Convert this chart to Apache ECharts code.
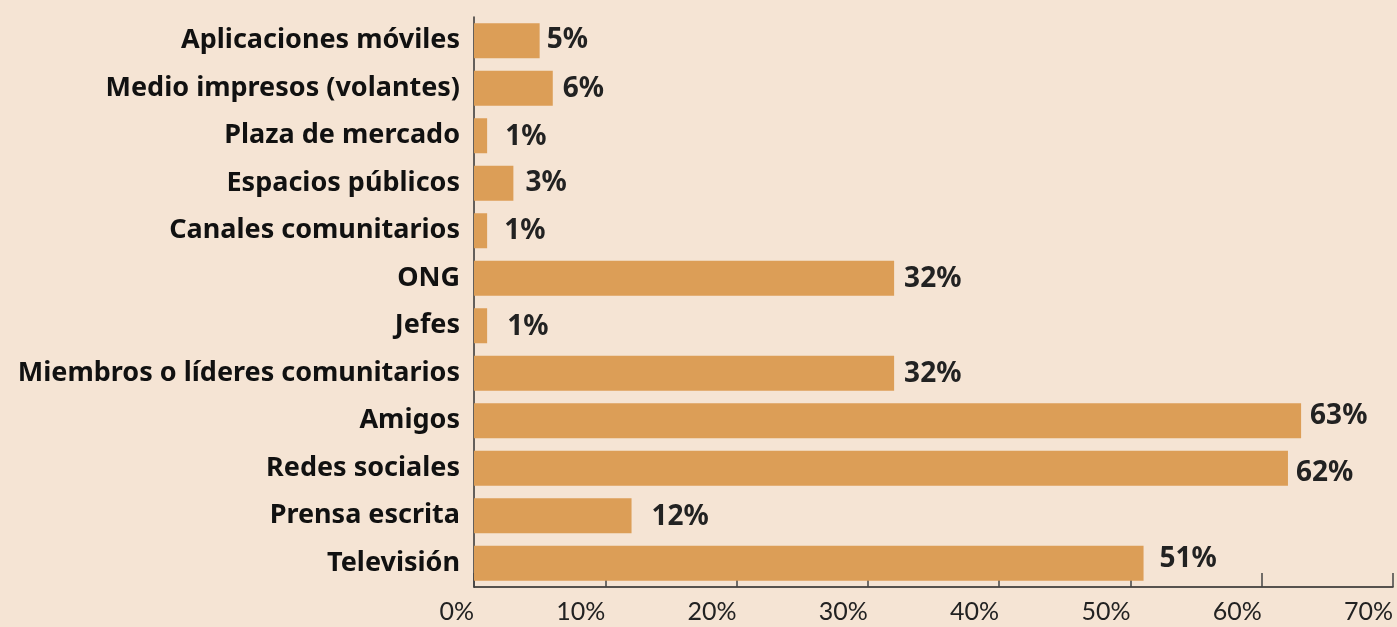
<!DOCTYPE html>
<html>
<head>
<meta charset="utf-8">
<script src="https://cdn.jsdelivr.net/npm/echarts@6/dist/echarts.min.js"></script>
<style>
  html, body { margin: 0; padding: 0; background: #F5E4D4; }
  #chart { width: 1397px; height: 627px; }
</style>
</head>
<body>
<div id="chart"></div>
<script>
const categories = [
  'Aplicaciones móviles',
  'Medio impresos (volantes)',
  'Plaza de mercado',
  'Espacios públicos',
  'Canales comunitarios',
  'ONG',
  'Jefes',
  'Miembros o líderes comunitarios',
  'Amigos',
  'Redes sociales',
  'Prensa escrita',
  'Televisión'
]
const shares = [5, 6, 1, 3, 1, 32, 1, 32, 63, 62, 12, 51]
const xTicks = [0, 10, 20, 30, 40, 50, 60, 70]

// label gap after each bar and vertical nudge, as in the source graphic
const labelGap = [7, 10, 18, 12, 17, 10, 20, 10, 9, 8, 20, 16]
const labelLift = [-1, 1, 1, 0, 0, 1, 1, 1, -5, 5, 1, -4]

const FONT = '"Noto Sans"'
const TICK_FONT = 'Lato'
const chart = echarts.init( document.getElementById( 'chart' ) )

chart.setOption( {
  backgroundColor : '#F5E4D4',
  animation : false,
  grid : {
    left : 474,
    right : 4,
    top : 17,
    bottom : 40,
    outerBoundsMode : 'none'
  },
  xAxis : {
    type : 'value',
    min : xTicks[0],
    max : xTicks[xTicks.length - 1],
    interval : 10,
    splitLine : { show : false },
    axisLine : { show : true, lineStyle : { color : '#222', width : 1.5 } },
    axisTick : { show : true, inside : true, length : 14, lineStyle : { color : '#444', width : 1.5 } },
    axisLabel : {
      formatter : '{value}%',
      align : 'right',
      margin : 12,
      fontFamily : TICK_FONT,
      fontSize : 25,
      color : '#222'
    }
  },
  yAxis : {
    type : 'category',
    inverse : true,
    data : categories,
    axisTick : { show : false },
    axisLine : { show : true, lineStyle : { color : '#333', width : 1.5 } },
    axisLabel : {
      margin : 14,
      fontFamily : FONT,
      fontWeight : 'bold',
      fontSize : 27,
      color : '#111',
      padding : [5, 0, 0, 0]
    }
  },
  series : [
    {
      type : 'bar',
      barWidth : 35,
      itemStyle : { color : '#DC9E57' },
      label : {
        show : true,
        position : 'right',
        formatter : '{c}%',
        fontFamily : FONT,
        fontWeight : 'bold',
        fontSize : 28,
        color : '#222'
      },
      data : shares.map( ( v, i ) => ( {
        value : v,
        label : { distance : labelGap[i], offset : [0, labelLift[i]] }
      } ) )
    }
  ]
} )
</script>
</body>
</html>
